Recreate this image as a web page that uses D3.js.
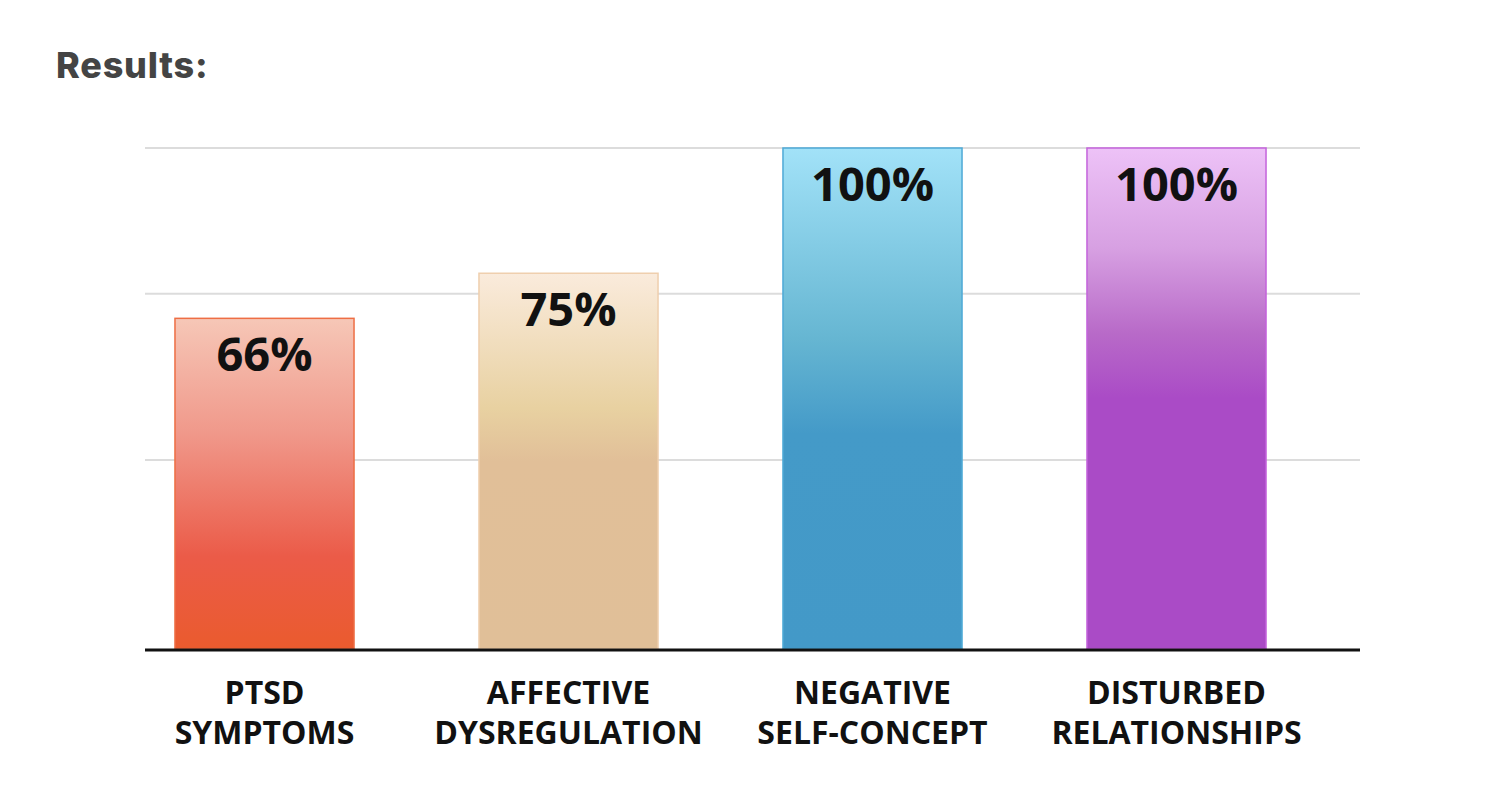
<!DOCTYPE html>
<html>
<head>
<meta charset="utf-8">
<script src="https://cdn.jsdelivr.net/npm/d3@7"></script>
<style>
  body { margin: 0; background: #fff; }
  #main svg { display: block; }
</style>
</head>
<body>
<div id="main"></div>
<script>
const ctx = {
    w: 1494,
    h: 800,
    left: 145,
    right: 1360,
    top: 148,
    bottom: 649,
};

// data
const categories = ["PTSD SYMPTOMS", "AFFECTIVE DYSREGULATION", "NEGATIVE SELF-CONCEPT", "DISTURBED RELATIONSHIPS"];
const labelLines = [["PTSD", "SYMPTOMS"], ["AFFECTIVE", "DYSREGULATION"], ["NEGATIVE", "SELF-CONCEPT"], ["DISTURBED", "RELATIONSHIPS"]];
const values = [0.66, 0.75, 1.00, 1.00];
const gridValues = [0.377, 0.709, 1.0];

// gradient stops per bar (offset within the bar, colour) and border colour
const palette = [
    {stroke: "#ee6e44", stops: [[0, "#f6c7b7"], [0.35, "#f0988a"], [0.72, "#eb5b48"], [1, "#ea5b2e"]]},
    {stroke: "#efcfae", stops: [[0, "#faebdc"], [0.36, "#e8d1a1"], [0.5, "#e1bf98"], [1, "#e0bf98"]]},
    {stroke: "#4ea9d6", stops: [[0, "#a2e2f8"], [0.38, "#66b6d2"], [0.57, "#449ac8"], [1, "#4399c8"]]},
    {stroke: "#c463dc", stops: [[0, "#edc2f7"], [0.2, "#d7a0e2"], [0.37, "#b86ac8"], [0.5, "#aa4bc6"], [1, "#aa4bc6"]]},
];

const svg = d3.select("#main").append("svg")
    .attr("width", ctx.w)
    .attr("height", ctx.h);

svg.append("text")
    .attr("x", 56)
    .attr("y", 78)
    .attr("font-family", "Inter, Lato, sans-serif")
    .attr("font-weight", 800)
    .attr("font-size", 36)
    .attr("letter-spacing", 0.8)
    .attr("fill", "#444")
    .text("Results:");

const x = d3.scaleBand()
    .domain(categories)
    .range([112.5, 1328.5])
    .paddingInner(0.411)
    .paddingOuter(0.2055);

const y = d3.scaleLinear()
    .domain([0, 1])
    .range([ctx.bottom, ctx.top]);

// gradients
const defs = svg.append("defs");
palette.forEach(function(p, i){
    const g = defs.append("linearGradient")
        .attr("id", "grad" + i)
        .attr("x1", 0).attr("y1", 0)
        .attr("x2", 0).attr("y2", 1);
    g.selectAll("stop")
        .data(p.stops)
        .enter()
        .append("stop")
        .attr("offset", d => d[0])
        .attr("stop-color", d => d[1]);
});

// gridlines
svg.append("g").attr("id", "grid")
    .selectAll("line")
    .data(gridValues)
    .enter()
    .append("line")
    .attr("x1", ctx.left)
    .attr("x2", ctx.right)
    .attr("y1", d => y(d))
    .attr("y2", d => y(d))
    .attr("stroke", "#dcdcdc")
    .attr("stroke-width", 2);

// bars
svg.append("g").attr("id", "bars")
    .selectAll("rect")
    .data(values)
    .enter()
    .append("rect")
    .attr("x", (d, i) => x(categories[i]))
    .attr("y", d => y(d))
    .attr("width", x.bandwidth())
    .attr("height", d => y(0) - y(d))
    .attr("fill", (d, i) => "url(#grad" + i + ")")
    .attr("stroke", (d, i) => palette[i].stroke)
    .attr("stroke-width", 1.5);

// value labels
svg.append("g").attr("id", "values")
    .selectAll("text")
    .data(values)
    .enter()
    .append("text")
    .attr("x", (d, i) => x(categories[i]) + x.bandwidth() / 2)
    .attr("y", d => y(d) + 53)
    .attr("text-anchor", "middle")
    .attr("font-family", "'Open Sans', sans-serif")
    .attr("font-weight", 700)
    .attr("font-size", 47)
    .attr("fill", "#111")
    .text(d => Math.round(d * 100) + "%");

// baseline
svg.append("line")
    .attr("x1", ctx.left)
    .attr("x2", ctx.right)
    .attr("y1", y(0) + 1)
    .attr("y2", y(0) + 1)
    .attr("stroke", "#111")
    .attr("stroke-width", 3);

// category labels
const lab = svg.append("g").attr("id", "labels")
    .selectAll("text")
    .data(categories)
    .enter()
    .append("text")
    .attr("text-anchor", "middle")
    .attr("font-family", "'Open Sans', sans-serif")
    .attr("font-weight", 700)
    .attr("font-size", 32)
    .attr("fill", "#111");
lab.selectAll("tspan")
    .data((d, i) => labelLines[i].map(t => ({t: t, c: d})))
    .enter()
    .append("tspan")
    .attr("x", d => x(d.c) + x.bandwidth() / 2)
    .attr("y", (d, j) => 704 + j * 40)
    .text(d => d.t);
</script>
</body>
</html>
